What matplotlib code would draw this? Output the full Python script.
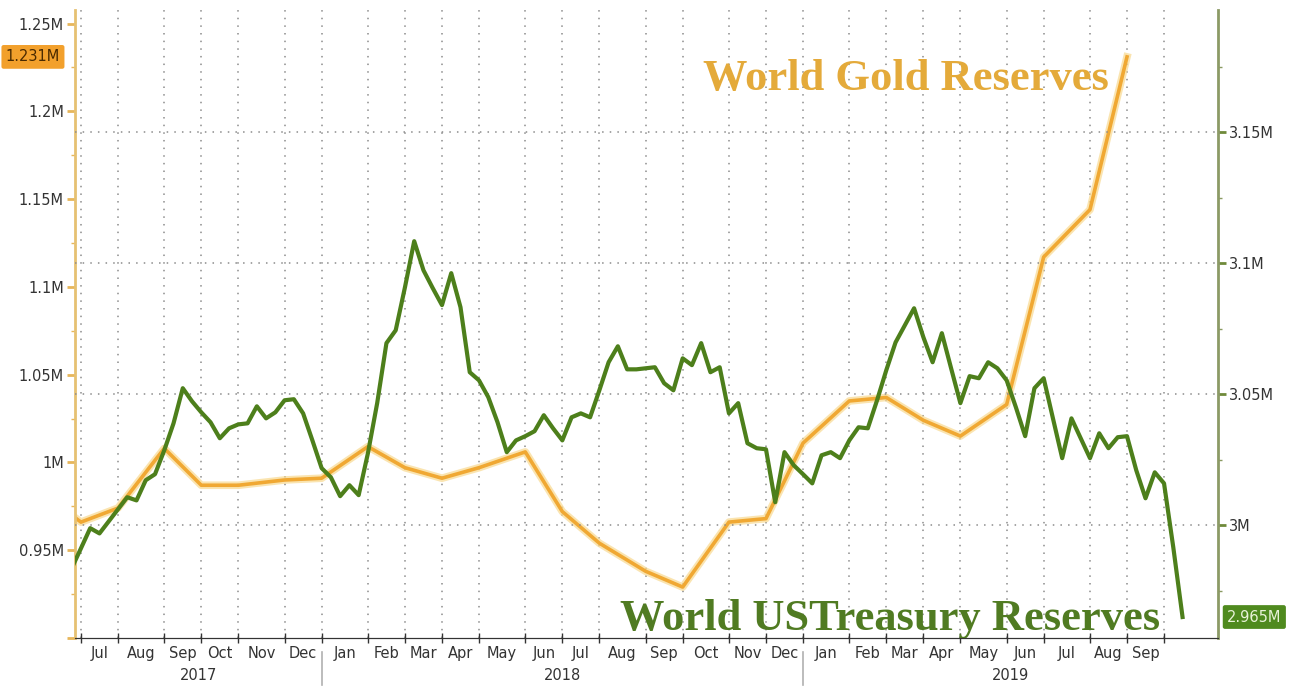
import pandas as pd
import matplotlib
matplotlib.use("Agg")
import matplotlib.pyplot as plt
import matplotlib.transforms as mtransforms
from matplotlib.ticker import FixedLocator, FuncFormatter

# Weekly custody data (Wednesdays), values in millions of USD
weeks = pd.date_range("2017-06-28", periods=121, freq="W-WED")
treasury = [
    2.9836, 2.9912, 2.9989, 2.9969, 3.0015, 3.0061, 3.0107, 3.0095, 3.0172, 3.0195,
    3.0286, 3.0389, 3.0523, 3.0473, 3.0431, 3.0393, 3.0332, 3.0370, 3.0385, 3.0389,
    3.0454, 3.0408, 3.0431, 3.0477, 3.0481, 3.0427, 3.0324, 3.0218, 3.0183, 3.0111,
    3.0153, 3.0115, 3.0275, 3.0466, 3.0695, 3.0744, 3.0908, 3.1084, 3.0973, 3.0905,
    3.0840, 3.0962, 3.0832, 3.0584, 3.0553, 3.0489, 3.0393, 3.0279, 3.0324, 3.0340,
    3.0359, 3.0420, 3.0370, 3.0324, 3.0412, 3.0427, 3.0412, 3.0515, 3.0622, 3.0683,
    3.0595, 3.0595, 3.0599, 3.0603, 3.0542, 3.0515, 3.0637, 3.0611, 3.0695, 3.0584,
    3.0603, 3.0427, 3.0466, 3.0313, 3.0294, 3.0290, 3.0088, 3.0279, 3.0229, 3.0195,
    3.0160, 3.0267, 3.0279, 3.0256, 3.0324, 3.0374, 3.0370, 3.0477, 3.0592, 3.0698,
    3.0763, 3.0828, 3.0718, 3.0622, 3.0733, 3.0599, 3.0466, 3.0569, 3.0561, 3.0622,
    3.0599, 3.0553, 3.0450, 3.0340, 3.0523, 3.0561, 3.0408, 3.0256, 3.0408, 3.0332,
    3.0256, 3.0351, 3.0294, 3.0336, 3.0340, 3.0210, 3.0103, 3.0202, 3.0160, 2.9916,
    2.965,
]

# Monthly gold reserves
gold_months = [
    "2017-06", "2017-07", "2017-08", "2017-09", "2017-10", "2017-11", "2017-12",
    "2018-01", "2018-02", "2018-03", "2018-04", "2018-05", "2018-06", "2018-07",
    "2018-08", "2018-09", "2018-10", "2018-11", "2018-12", "2019-01", "2019-02",
    "2019-03", "2019-04", "2019-05", "2019-06", "2019-07", "2019-08", "2019-09",
]
gold = [
    0.970, 0.966, 0.974, 1.008, 0.987, 0.987, 0.990,
    0.991, 1.009, 0.997, 0.991, 0.997, 1.006, 0.972,
    0.954, 0.938, 0.929, 0.966, 0.968, 1.011, 1.035,
    1.037, 1.024, 1.015, 1.033, 1.117, 1.144, 1.231,
]

GREEN = "#4d7f1b"
GOLD = "#f0a833"

# x positions: week index; months sit at their first week
ym = weeks.strftime("%Y-%m")
first_idx = {}
for i, m in enumerate(ym):
    first_idx.setdefault(m, i)
gold_x = [first_idx[m] for m in gold_months]
month_ticks = [i for i in range(1, len(weeks)) if weeks[i].month != weeks[i - 1].month]
month_mid = [(a + b) / 2 for a, b in zip(month_ticks[:-1], month_ticks[1:])]
month_lbl = [weeks[t].strftime("%b") for t in month_ticks[:-1]]
jan_ticks = [t for t in month_ticks if weeks[t].month == 1]

x0, x1 = 0.35, 123.83

fig = plt.figure(figsize=(13.01, 6.86), dpi=100)
ax = fig.add_axes([0.0576, 0.070, 0.8786, 0.9154])
ax2 = ax.twinx()

# gold (left axis) with soft glow
ax.plot(gold_x, gold, color="#f8d98f", lw=5.5, alpha=0.7, solid_joinstyle="round")
ax.plot(gold_x, gold, color=GOLD, lw=2.6, solid_joinstyle="round")
ax2.plot(range(len(treasury)), treasury, color=GREEN, lw=3.0, solid_joinstyle="round")

ax.set_xlim(x0, x1)
ax.set_ylim(0.9, 1.2577)
ax2.set_ylim(2.957, 3.1966)

# y ticks
ax.yaxis.set_major_locator(FixedLocator([0.9, 0.95, 1.0, 1.05, 1.1, 1.15, 1.2, 1.25]))
ax.yaxis.set_minor_locator(FixedLocator([0.925, 0.975, 1.025, 1.075, 1.125, 1.175, 1.225]))
ax.yaxis.set_major_formatter(FuncFormatter(lambda v, p: "" if v < 0.92 else f"{v:g}M"))
ax2.yaxis.set_major_locator(FixedLocator([3.0, 3.05, 3.1, 3.15]))
ax2.yaxis.set_minor_locator(FixedLocator([2.975, 3.025, 3.075, 3.125, 3.175]))
ax2.yaxis.set_major_formatter(FuncFormatter(lambda v, p: f"{v:g}M"))

ax.tick_params(axis="y", which="major", length=6, width=2, color="#e7b65a",
               labelsize=10.5, labelcolor="#333333", pad=2)
ax.tick_params(axis="y", which="minor", length=3, width=1, color="#e7b65a")
ax2.tick_params(axis="y", which="major", length=6, width=2, color="#6f8a3a",
                labelsize=10.5, labelcolor="#333333", pad=2)
ax2.tick_params(axis="y", which="minor", length=3, width=1, color="#8a9a62")

# x ticks: month boundaries, labels centred in each month
ax.xaxis.set_major_locator(FixedLocator(month_ticks))
ax.xaxis.set_minor_locator(FixedLocator(month_mid))
ax.xaxis.set_major_formatter(FuncFormatter(lambda v, p: ""))
ax.xaxis.set_minor_formatter(FuncFormatter(lambda v, p: month_lbl[p] if p is not None and p < len(month_lbl) else ""))
ax.tick_params(axis="x", which="major", direction="inout", length=7, width=1, color="#333333")
ax.tick_params(axis="x", which="minor", length=0, labelsize=10.5, labelcolor="#333333", pad=6)

# grid
ax.grid(axis="x", which="major", linestyle=(0, (1, 4)), color="#8c8c8c", lw=1.1)
ax2.grid(axis="y", which="major", linestyle=(0, (1, 4)), color="#8c8c8c", lw=1.1)
ax.set_axisbelow(True)

for a in (ax, ax2):
    a.spines["top"].set_visible(False)
ax.spines["left"].set_color("#e6c172")
ax.spines["left"].set_linewidth(2)
ax.spines["right"].set_visible(False)
ax2.spines["left"].set_visible(False)
ax2.spines["right"].set_color("#8c9a66")
ax2.spines["right"].set_linewidth(2)
ax2.spines["bottom"].set_color("#333333")
ax.spines["bottom"].set_color("#333333")

# year labels and separators
tr = mtransforms.blended_transform_factory(ax.transData, ax.transAxes)
bounds = [x0] + jan_ticks + [x1]
years = [weeks[0].year + i for i in range(len(bounds) - 1)]
for (a, b), yr in zip(zip(bounds[:-1], bounds[1:]), years):
    ax.text((a + b) / 2, -0.06, str(yr), transform=tr, ha="center", va="center",
            fontsize=10.5, color="#333333")
for t in jan_ticks:
    ax.plot([t, t], [-0.022, -0.075], transform=tr, color="#b0b0b0", lw=1.2, clip_on=False)

# series titles
ax.text(0.727, 0.873, "World Gold Reserves", transform=ax.transAxes, ha="center",
        va="baseline", fontsize=32, fontweight="bold", color="#e4aa3a",
        family="Liberation Serif")
ax.text(0.713, 0.013, "World USTreasury Reserves", transform=ax.transAxes, ha="center",
        va="baseline", fontsize=32, fontweight="bold", color="#507b22",
        family="Liberation Serif")

# last value tags
trl = mtransforms.blended_transform_factory(ax.transAxes, ax.transData)
ax.text(-0.013, gold[-1], f"{gold[-1]:.3f}M", transform=trl, ha="right", va="center",
        fontsize=10.5, color="#4a2a00",
        bbox=dict(boxstyle="round,pad=0.3,rounding_size=0.15", fc="#f2a02c", ec="none"))
trr = mtransforms.blended_transform_factory(ax2.transAxes, ax2.transData)
ax2.text(1.008, treasury[-1], f"{treasury[-1]:.3f}M", transform=trr, ha="left", va="center",
         fontsize=10.5, color="#e8f2d8",
         bbox=dict(boxstyle="round,pad=0.3,rounding_size=0.15", fc="#4f8a1e", ec="none"))

fig.savefig("out.png", dpi=100)
